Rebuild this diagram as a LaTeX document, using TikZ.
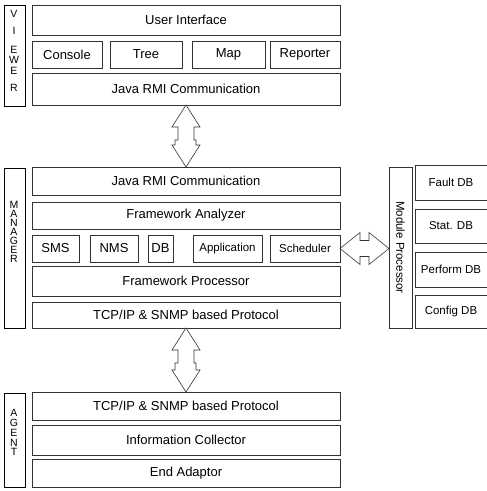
\documentclass[tikz,border=0pt]{standalone}
\usepackage{fontspec}
\setmainfont{Liberation Sans}
\usetikzlibrary{calc}
\begin{document}
\begin{tikzpicture}[x=1pt,y=-1pt,
  box/.style={draw=black!80, line width=0.6pt, anchor=north west, inner sep=0pt, outer sep=0pt, font=\fontsize{13}{15}\selectfont},
  sbox/.style={box, font=\fontsize{11.5}{13}\selectfont},
  lab/.style={draw=black, line width=0.8pt, anchor=north west, inner sep=0pt, outer sep=0pt},
  letter/.style={font=\fontsize{10.5}{11}\selectfont, inner sep=0pt},
  arr/.style={draw=black!80, line width=0.6pt, fill=white, line join=miter}]
\useasboundingbox (0,0) rectangle (487,491);
% ---------------- VIEWER
\node[lab, minimum width=21, minimum height=101] (vlab) at (4,5) {};
\foreach \l/\y [count=\i] in {V/14,I/31,E/50,W/60,E/71,R/88}
  \node[letter] (vl\i) at (14,\y) {\l};
\node[box, minimum width=308, minimum height=30] (ui) at (32,5) {User Interface};
\node[box, minimum width=70, minimum height=27] (console) at (32,41) {Console};
\node[box, minimum width=72, minimum height=27] (tree) at (110,41) {Tree};
\node[box, minimum width=73, minimum height=27] (map) at (192,41) {Map};
\node[box, minimum width=70, minimum height=27] (reporter) at (270,41) {Reporter};
\node[box, minimum width=308, minimum height=32] (vrmi) at (32,73) {Java RMI Communication};
% ---------------- MANAGER
\node[lab, minimum width=21, minimum height=160] (mlab) at (4,168) {};
\foreach \l/\y [count=\i] in {M/205,A/214,N/223,A/232,G/241,E/250,R/259}
  \node[letter] (ml\i) at (14,\y) {\l};
\node[box, minimum width=308, minimum height=28] (mrmi) at (32,167) {Java RMI Communication};
\node[box, minimum width=308, minimum height=27] (fa) at (32,202) {Framework Analyzer};
\node[box, minimum width=47, minimum height=27] (sms) at (32,235) {SMS};
\node[box, minimum width=48, minimum height=27] (nms) at (90,235) {NMS};
\node[box, minimum width=25, minimum height=27] (db) at (148,235) {DB};
\node[sbox, minimum width=69, minimum height=27] (app) at (193,235) {Application};
\node[sbox, minimum width=70, minimum height=27] (sched) at (270,235) {Scheduler};
\node[box, minimum width=308, minimum height=30] (fp) at (32,266) {Framework Processor};
\node[box, minimum width=308, minimum height=26] (mtcp) at (32,302) {TCP/IP \& SNMP based Protocol};
% ---------------- MODULE PROCESSOR
\node[box, minimum width=23, minimum height=161] (modp) at (389,167) {};
\node[font=\fontsize{11.5}{13}\selectfont, rotate=-90, inner sep=0pt] (modpt) at (modp.center) {Module Processor};
\node[sbox, minimum width=75, minimum height=35] (fault) at (415,165) {\hspace*{-3pt}Fault DB};
\node[sbox, minimum width=75, minimum height=34] (stat) at (415,209) {\hspace*{-3pt}Stat. DB};
\node[sbox, minimum width=75, minimum height=35] (perf) at (415,252) {\hspace*{-3pt}Perform DB};
\node[sbox, minimum width=75, minimum height=33] (conf) at (415,295) {\hspace*{-3pt}Config DB};
% ---------------- AGENT
\node[lab, minimum width=21, minimum height=94] (alab) at (4,393) {};
\foreach \l/\y [count=\i] in {A/413,G/423,E/433,N/443,T/452}
  \node[letter] (al\i) at (14,\y) {\l};
\node[box, minimum width=308, minimum height=28] (atcp) at (32,392) {TCP/IP \& SNMP based Protocol};
\node[box, minimum width=308, minimum height=30] (ic) at (32,425) {Information Collector};
\node[box, minimum width=308, minimum height=28] (ea) at (32,459) {End Adaptor};
% ---------------- DOUBLE ARROWS
\newcommand\vdouble[2]{%
  \draw[arr] (#1) -- ($(#1)+(-14,22)$) -- ($(#1)+(-8,22)$) -- ($(#1)+(-8,35)$) -- ($(#1)+(-11,35)$)
    -- ($(#2)+(-11,-22)$) -- ($(#2)+(-14,-22)$) -- (#2) -- ($(#2)+(14,-22)$) -- ($(#2)+(10,-22)$)
    -- ($(#1)+(10,35)$) -- ($(#1)+(8,35)$) -- ($(#1)+(8,22)$) -- ($(#1)+(14,22)$) -- cycle;}
\vdouble{vrmi.south}{mrmi.north}
\vdouble{mtcp.south}{atcp.north}
\coordinate (hb) at (sched.east -| modp.west);
\draw[arr] (sched.east) -- ($(sched.east)+(20,-16)$) -- ($(sched.east)+(20,-8)$) -- ($(hb)+(-20,-8)$)
  -- ($(hb)+(-20,-16)$) -- (hb) -- ($(hb)+(-20,16)$) -- ($(hb)+(-20,8)$) -- ($(sched.east)+(20,8)$)
  -- ($(sched.east)+(20,16)$) -- cycle;
\end{tikzpicture}
\end{document}
